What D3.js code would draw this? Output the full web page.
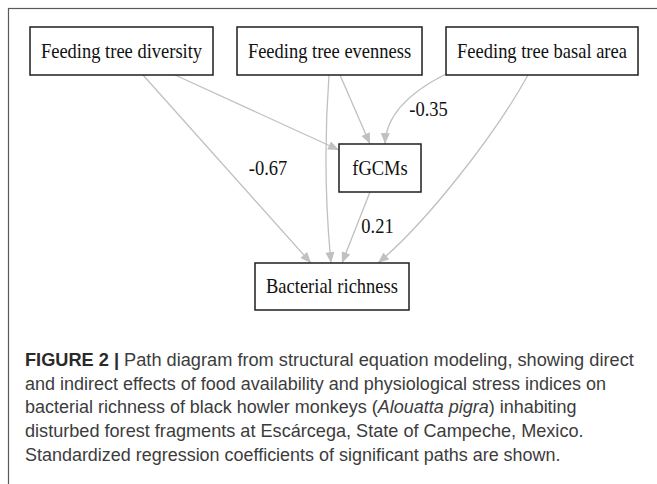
<!DOCTYPE html>
<html>
<head>
<meta charset="utf-8">
<script src="https://cdn.jsdelivr.net/npm/d3@7/dist/d3.min.js"></script>
<style>
  body { margin: 0; background: #fff; }
</style>
</head>
<body>
<div id="chart"></div>
<script>
// Nodes of the path diagram
var nodeNames = ["Feeding tree diversity", "Feeding tree evenness", "Feeding tree basal area", "fGCMs", "Bacterial richness"];

// Paths: source node, target node, standardized coefficient (null = not shown)
var pathFrom = [0, 0, 1, 1, 2, 2, 3];
var pathTo   = [4, 3, 4, 3, 3, 4, 4];
var pathCoef = ["-0.67", null, null, null, "-0.35", null, "0.21"];

// Caption text, one entry per line: [text, kind]
var captionLines = [
  [["FIGURE 2 | ", "bold"], ["Path diagram from structural equation modeling, showing direct", ""]],
  [["and indirect effects of food availability and physiological stress indices on", ""]],
  [["bacterial richness of black howler monkeys (", ""], ["Alouatta pigra", "italic"], [") inhabiting", ""]],
  [["disturbed forest fragments at Esc\u00e1rcega, State of Campeche, Mexico.", ""]],
  [["Standardized regression coefficients of significant paths are shown.", ""]]
];

// ---- layout (pixel geometry of the drawing) ----
var width = 657, height = 484;
var boxes = [ // x0, y0, x1, y1
  [30, 27, 213, 75],
  [237, 27, 422, 75],
  [446, 27, 638, 75],
  [339, 144, 421, 192],
  [255, 263, 409, 310]
];
// path geometry: start, optional control points, end (arrow tip)
var pathGeom = [
  [[143, 75], [311, 263]],
  [[175, 75], [339, 150]],
  [[329, 75], [322, 170], [331, 263]],
  [[340, 75], [370, 144]],
  [[446, 74], [416, 89], [386, 112], [385, 144]],
  [[528, 75], [495, 135], [426, 223], [378, 263]],
  [[370, 192], [342, 263]]
];
var labelPos = [[268, 175], null, null, null, [428.5, 115.5], null, [377.5, 233]];
var captionY = [366, 389.5, 413, 437, 461];
var captionEnd = [634, 606, 577, 584, 561];
var captionX = 25;

var svg = d3.select("#chart")
  .append("svg")
    .attr("width", width)
    .attr("height", height)
    .style("display", "block")
    .style("background-color", "#fff");

// arrowhead
svg.append("defs").append("marker")
    .attr("id", "arrow")
    .attr("viewBox", "0 0 12 10")
    .attr("refX", 12)
    .attr("refY", 5)
    .attr("markerWidth", 12)
    .attr("markerHeight", 9)
    .attr("markerUnits", "userSpaceOnUse")
    .attr("orient", "auto")
  .append("path")
    .attr("d", "M0,0L12,5L0,10Z")
    .attr("fill", "#c0c0c0");

// outer frame
svg.append("rect")
    .attr("x", 8.5)
    .attr("y", 8.5)
    .attr("width", 700)
    .attr("height", 520)
    .attr("fill", "none")
    .attr("stroke", "#5a5a5a")
    .attr("stroke-width", 1.2);

function pathD(pts) {
  var p = d3.path();
  p.moveTo(pts[0][0], pts[0][1]);
  if (pts.length === 2) p.lineTo(pts[1][0], pts[1][1]);
  else if (pts.length === 3) p.quadraticCurveTo(pts[1][0], pts[1][1], pts[2][0], pts[2][1]);
  else p.bezierCurveTo(pts[1][0], pts[1][1], pts[2][0], pts[2][1], pts[3][0], pts[3][1]);
  return p.toString();
}

// edges
svg.selectAll("path.edge")
  .data(pathFrom.map(function(f, i) { return {from: f, to: pathTo[i], coef: pathCoef[i], i: i}; }))
  .enter()
  .append("path")
    .attr("class", "edge")
    .attr("d", function(d) { return pathD(pathGeom[d.i]); })
    .attr("fill", "none")
    .attr("stroke", "#c0c0c0")
    .attr("stroke-width", 1.3)
    .attr("marker-end", "url(#arrow)");

// coefficient labels
svg.selectAll("text.coef")
  .data(pathCoef.map(function(c, i) { return {coef: c, i: i}; }).filter(function(d) { return d.coef !== null; }))
  .enter()
  .append("text")
    .attr("class", "coef")
    .attr("transform", function(d) { var p = labelPos[d.i]; return "translate(" + p[0] + "," + p[1] + ") scale(0.925,1)"; })
    .attr("text-anchor", "middle")
    .style("font-family", "'Liberation Serif', 'Times New Roman', serif")
    .style("font-size", "20px")
    .attr("fill", "#111")
    .text(function(d) { return d.coef; });

// nodes
var node = svg.selectAll("g.node")
  .data(nodeNames)
  .enter()
  .append("g")
    .attr("class", "node");

node.append("rect")
    .attr("x", function(d, i) { return boxes[i][0]; })
    .attr("y", function(d, i) { return boxes[i][1]; })
    .attr("width", function(d, i) { return boxes[i][2] - boxes[i][0]; })
    .attr("height", function(d, i) { return boxes[i][3] - boxes[i][1]; })
    .attr("fill", "#fff")
    .attr("stroke", "#1e1e1e")
    .attr("stroke-width", 1.5);

node.append("text")
    .attr("transform", function(d, i) {
      var b = boxes[i];
      return "translate(" + ((b[0] + b[2]) / 2) + "," + ((b[1] + b[3]) / 2 + 6.5) + ") scale(0.925,1)";
    })
    .attr("text-anchor", "middle")
    .style("font-family", "'Liberation Serif', 'Times New Roman', serif")
    .style("font-size", "20px")
    .attr("fill", "#111")
    .text(function(d) { return d; });

// caption
captionLines.forEach(function(line, i) {
  var t = svg.append("text")
      .attr("x", 0)
      .attr("y", 0)
      .style("font-family", "'Liberation Sans', Arial, sans-serif")
      .style("font-size", "18.5px")
      .attr("fill", "#3c3c3c");
  line.forEach(function(seg) {
    t.append("tspan")
      .attr("font-weight", seg[1] === "bold" ? "bold" : null)
      .attr("font-style", seg[1] === "italic" ? "italic" : null)
      .attr("fill", seg[1] === "bold" ? "#2a2a2a" : null)
      .text(seg[0]);
  });
  var len = t.node().getComputedTextLength();
  var sx = (captionEnd[i] - captionX) / len;
  t.attr("transform", "translate(" + captionX + "," + captionY[i] + ") scale(" + sx + ",1)");
});
</script>
</body>
</html>
